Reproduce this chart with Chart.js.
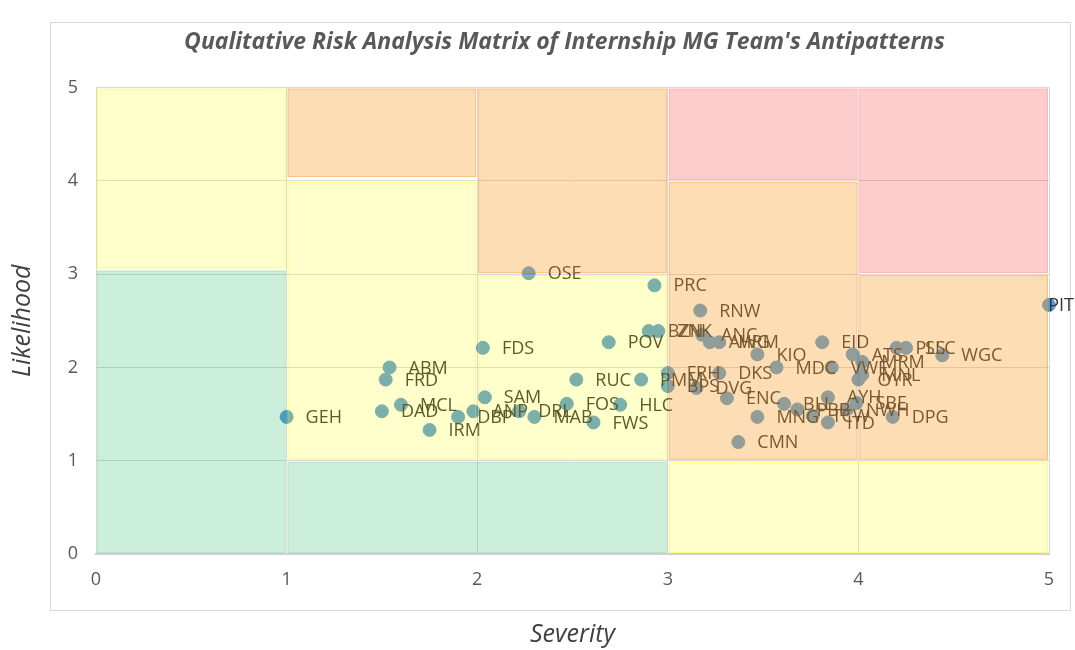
<!DOCTYPE html>
<html>
<head>
<meta charset="utf-8">
<script src="https://cdn.jsdelivr.net/npm/chart.js@4.4.1/dist/chart.umd.min.js"></script>
<style>
  html, body { margin: 0; padding: 0; background: #fff; }
  #wrap { width: 1075px; height: 650px; }
</style>
</head>
<body>
<div id="wrap"><canvas id="chart" width="1075" height="650"></canvas></div>
<script>
// antipattern codes with their severity (x) and likelihood (y)
const codes = ['GEH', 'ABM', 'FRD', 'DAD', 'MCL', 'IRM', 'DBP', 'ANP', 'SAM', 'DRL',
    'MAB', 'FOS', 'FWS', 'HLC', 'RUC', 'PMM', 'FRH', 'BPS', 'DVG', 'DKS',
    'ENC', 'CMN', 'MNG', 'BLL', 'PBB', 'TCW', 'AYH', 'ITD', 'NWH', 'SBE',
    'DPG', 'KIO', 'MDC', 'VWE', 'EID', 'ATS', 'MRM', 'MNL', 'OYR', 'PLS',
    'SLC', 'WGC', 'PIT', 'OSE', 'PRC', 'FDS', 'POV', 'BZN', 'ZNK', 'RNW',
    'ANC', 'AWG', 'HRM'];
const severity = [1.00, 1.54, 1.52, 1.50, 1.60, 1.75, 1.90, 1.98, 2.04, 2.22,
    2.30, 2.47, 2.61, 2.75, 2.52, 2.86, 3.00, 3.00, 3.15, 3.27,
    3.31, 3.37, 3.47, 3.61, 3.68, 3.76, 3.84, 3.84, 3.94, 3.99,
    4.18, 3.47, 3.57, 3.86, 3.81, 3.97, 4.02, 4.02, 4.00, 4.20,
    4.25, 4.44, 5.00, 2.27, 2.93, 2.03, 2.69, 2.90, 2.95, 3.17,
    3.18, 3.22, 3.27];
const likelihood = [1.47, 2.00, 1.87, 1.53, 1.60, 1.33, 1.47, 1.53, 1.68, 1.53,
    1.47, 1.61, 1.41, 1.60, 1.87, 1.87, 1.94, 1.80, 1.78, 1.94,
    1.67, 1.20, 1.47, 1.61, 1.55, 1.48, 1.68, 1.41, 1.55, 1.62,
    1.47, 2.14, 2.00, 2.00, 2.27, 2.14, 2.06, 1.92, 1.87, 2.21,
    2.21, 2.13, 2.67, 3.01, 2.88, 2.21, 2.27, 2.39, 2.39, 2.61,
    2.35, 2.27, 2.27];

// risk zones of the matrix: severity range, likelihood range, level
const zoneSevFrom = [0, 1, 0, 1, 2, 3, 1, 2, 3, 4, 3, 4];
const zoneSevTo   = [1, 3, 1, 2, 3, 5, 2, 3, 4, 5, 4, 5];
const zoneLikFrom = [0, 0, 3.05, 1, 1, 0, 4.03, 3, 1, 1, 4, 3];
const zoneLikTo   = [3.05, 1, 5, 4, 3, 1, 5, 5, 4, 3, 5, 5];
const zoneLevel   = ['low', 'low', 'medium', 'medium', 'medium', 'medium', 'high', 'high', 'high', 'high', 'severe', 'severe'];

const axisTicks = [0, 1, 2, 3, 4, 5];

const zoneFill = {
    low: 'rgba(0,176,80,0.2)',
    medium: 'rgba(255,255,0,0.2)',
    high: 'rgba(250,160,40,0.35)',
    severe: 'rgba(255,0,0,0.2)'
};
const zoneEdge = {
    low: 'rgba(0,150,70,0.12)',
    medium: 'rgba(240,240,0,0.35)',
    high: 'rgba(235,140,30,0.35)',
    severe: 'rgba(230,60,60,0.15)'
};

const points = codes.map((c, i) => ({ x: severity[i], y: likelihood[i] }));

// frame around the whole chart, like the spreadsheet chart area
const framePlugin = {
    id: 'frame',
    beforeDraw(chart) {
        const ctx = chart.ctx;
        ctx.save();
        ctx.fillStyle = '#fff';
        ctx.fillRect(0, 0, chart.width, chart.height);
        ctx.strokeStyle = '#d9d9d9';
        ctx.lineWidth = 1;
        ctx.strokeRect(50.5, 22.5, 1020, 588);
        ctx.restore();
    },
    afterLayout(chart) {
        // centre the title on the frame, not on the whole canvas
        chart.titleBlock.left = 80;
    }
};

// labels beside each marker, then the translucent risk zones over everything
const matrixPlugin = {
    id: 'matrix',
    afterDatasetsDraw(chart) {
        const ctx = chart.ctx;
        const xs = chart.scales.x, ys = chart.scales.y;
        const meta = chart.getDatasetMeta(0);
        ctx.save();
        ctx.font = '18px "Open Sans", sans-serif';
        ctx.fillStyle = '#333';
        ctx.textBaseline = 'middle';
        ctx.textAlign = 'left';
        meta.data.forEach((pt, i) => {
            const w = ctx.measureText(codes[i]).width;
            const lx = Math.min(pt.x + 19, chart.width - w - 1);
            ctx.fillText(codes[i], lx, pt.y + 1);
        });
        zoneLevel.forEach((lvl, i) => {
            const x0 = xs.getPixelForValue(zoneSevFrom[i]);
            const x1 = xs.getPixelForValue(zoneSevTo[i]);
            const y0 = ys.getPixelForValue(zoneLikTo[i]);
            const y1 = ys.getPixelForValue(zoneLikFrom[i]);
            ctx.fillStyle = zoneFill[lvl];
            ctx.fillRect(x0 + 1, y0 + 1, x1 - x0 - 2, y1 - y0 - 2);
            ctx.strokeStyle = zoneEdge[lvl];
            ctx.lineWidth = 1;
            ctx.strokeRect(x0 + 1.5, y0 + 1.5, x1 - x0 - 3, y1 - y0 - 3);
        });
        ctx.restore();
    }
};

new Chart(document.getElementById('chart'), {
    type: 'scatter',
    data: {
        datasets: [{
            label: 'Antipatterns',
            data: points,
            backgroundColor: '#5b9bd5',
            borderColor: '#5b9bd5',
            pointRadius: 6.5,
            pointHoverRadius: 6.5,
            clip: false
        }]
    },
    options: {
        responsive: false,
        animation: false,
        layout: { padding: { left: 0, right: 26, top: 0, bottom: 0 } },
        plugins: {
            legend: { display: false },
            tooltip: { enabled: false },
            title: {
                display: true,
                text: "Qualitative Risk Analysis Matrix of Internship MG Team's Antipatterns",
                color: '#595959',
                font: { family: '"Open Sans", sans-serif', size: 23, weight: 'bold', style: 'italic', lineHeight: 1.2 },
                padding: { top: 29, bottom: 31 }
            }
        },
        scales: {
            x: {
                type: 'linear',
                min: 0, max: 5,
                afterBuildTicks: s => { s.ticks = axisTicks.map(v => ({ value: v })); },
                afterFit: s => { s.height = 96; },
                grid: { color: '#d9d9d9', drawTicks: false },
                border: { display: true, color: '#d0d0d0', width: 2 },
                ticks: { color: '#595959', font: { family: '"Open Sans", sans-serif', size: 18 }, padding: 15 },
                title: {
                    display: true, text: 'Severity', color: '#404040',
                    font: { family: '"Open Sans", sans-serif', size: 25, style: 'italic', lineHeight: 1.2 },
                    padding: { top: 0, bottom: 0 }
                }
            },
            y: {
                type: 'linear',
                min: 0, max: 5,
                afterBuildTicks: s => { s.ticks = axisTicks.map(v => ({ value: v })); },
                afterFit: s => { s.width = 96; },
                grid: { color: '#d9d9d9', drawTicks: false },
                border: { display: false },
                ticks: { color: '#595959', font: { family: '"Open Sans", sans-serif', size: 18 }, padding: 18 },
                title: {
                    display: true, text: 'Likelihood', color: '#404040',
                    font: { family: '"Open Sans", sans-serif', size: 25, style: 'italic', lineHeight: 1.2 },
                    padding: { top: 8, bottom: 0 }
                }
            }
        }
    },
    plugins: [framePlugin, matrixPlugin]
});
</script>
</body>
</html>
